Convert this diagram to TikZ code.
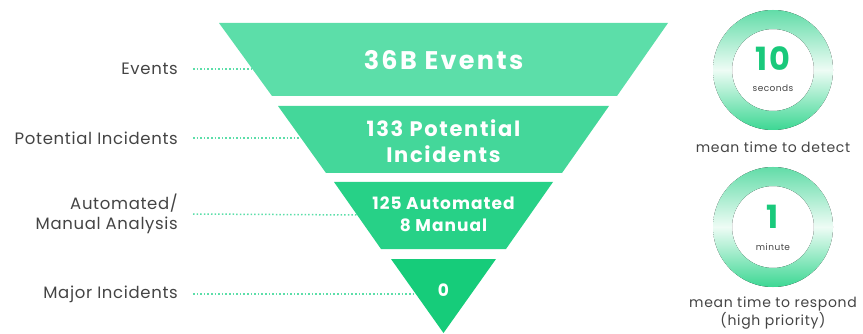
\documentclass[tikz,border=0pt]{standalone}
\usepackage{fontspec}
\setmainfont{Poppins}
\usetikzlibrary{calc}
\definecolor{layA}{HTML}{5CDEA9}
\definecolor{layB}{HTML}{44D79A}
\definecolor{layC}{HTML}{27D187}
\definecolor{layD}{HTML}{16CC7A}
\definecolor{dotc}{HTML}{5CDEA9}
\definecolor{labgray}{HTML}{444444}
\definecolor{numgreen}{HTML}{19C97B}
\definecolor{ringtop}{HTML}{62DCA8}
\definecolor{ringmid}{HTML}{EEFCF5}
\definecolor{ringbot}{HTML}{3CD793}
\tikzset{
  lefttxt/.style={anchor=east, text=labgray, font=\fontsize{16.5}{20}\selectfont\addfontfeature{LetterSpace=4}, align=right, inner sep=0pt},
  funtxt/.style={text=white, align=center, inner sep=0pt},
  dotline/.style={draw=dotc, line width=1.5pt, dash pattern=on 1.5pt off 2.1pt},
  bignum/.style={text=numgreen, font=\bfseries\fontsize{32}{34}\selectfont\addfontfeature{LetterSpace=5}, inner sep=0pt},
  smallunit/.style={text=labgray, font=\fontsize{9}{10}\selectfont\addfontfeature{LetterSpace=5}, inner sep=0pt},
  captxt/.style={text=labgray, font=\fontsize{14}{18}\selectfont\addfontfeature{LetterSpace=5}, align=center, inner sep=0pt},
  ring/.style={even odd rule, top color=ringtop, bottom color=ringbot, middle color=ringmid},
}
\begin{document}
\begin{tikzpicture}[x=1pt,y=-1pt]
\useasboundingbox (0,0) rectangle (863,334);
% edge coordinates
\coordinate (e1) at (252,69);
\coordinate (e2) at (301,138);
\coordinate (e3) at (358,215);
\coordinate (e4) at (416,294);
% labels
\node[lefttxt] (l1) at (178,69) {Events};
\node[lefttxt] (l2) at (178,138) {Potential Incidents};
\node[lefttxt] (l3) at (178,214) {Automated/\\Manual Analysis};
\node[lefttxt] (l4) at (178,294) {Major Incidents};
\draw[dotline] ($(l1.east)+(15,0)$) -- (e1);
\draw[dotline] ($(l2.east)+(15,0)$) -- (e2);
\draw[dotline] ($(l3.east)+(15,0)$) -- (e3);
\draw[dotline] ($(l4.east)+(15,0)$) -- (e4);
% funnel
\fill[layA] (219,23) -- (668,23) -- (617,96) -- (272,96) -- cycle;
\fill[layB] (278,106) -- (609,106) -- (562,173) -- (326,173) -- cycle;
\fill[layC] (334,182) -- (553,182) -- (506,249) -- (381,249) -- cycle;
\fill[layD] (391,259) -- (496,259) -- (443.5,333) -- cycle;
\node[funtxt, font=\bfseries\fontsize{25.5}{28}\selectfont\addfontfeature{LetterSpace=9}] (t1) at (443.5,60) {36B Events};
\node[funtxt, font=\bfseries\fontsize{21}{26}\selectfont\addfontfeature{LetterSpace=8}] (t2) at (443.5,141) {133 Potential\\Incidents};
\node[funtxt, font=\bfseries\fontsize{17}{22}\selectfont\addfontfeature{LetterSpace=6}] (t3) at (443.5,214) {125 Automated\\8 Manual};
\node[funtxt, font=\bfseries\fontsize{17}{20}\selectfont] (t4) at (443.5,290) {0};
% circles
\coordinate (c1) at (773,70);
\coordinate (c2) at (773,227);
\fill[ring] (c1) circle (60) (c1) circle (41);
\fill[ring] (c2) circle (60) (c2) circle (41);
\node[bignum] (n1) at (773,59) {10};
\node[smallunit] (u1) at (773,88) {seconds};
\node[captxt] (k1) at (773,147) {mean time to detect};
\node[bignum] (n2) at (773,217) {1};
\node[smallunit] (u2) at (773,247) {minute};
\node[captxt] (k2) at (773,313) {mean time to respond\\(high priority)};
\end{tikzpicture}
\end{document}
